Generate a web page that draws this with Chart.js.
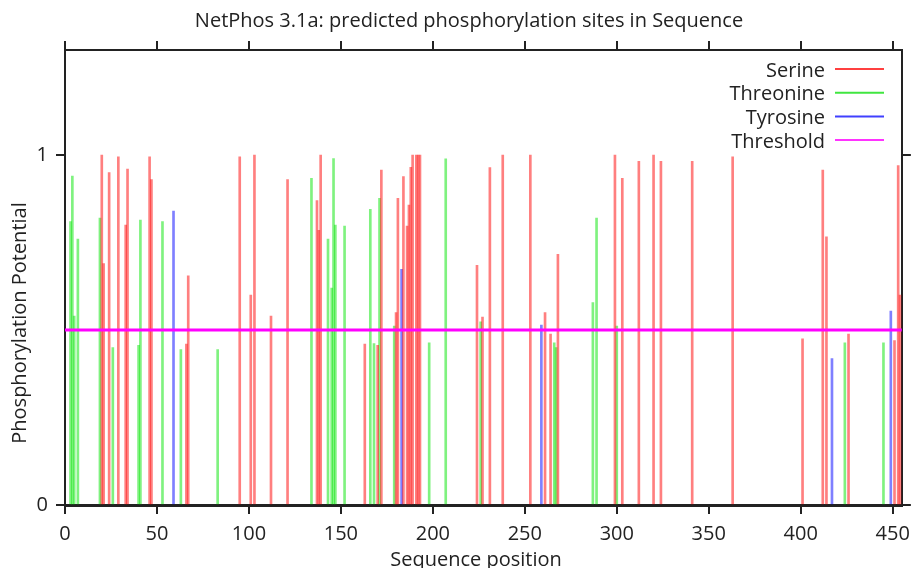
<!DOCTYPE html>
<html>
<head>
<meta charset="utf-8">
<script src="https://cdn.jsdelivr.net/npm/chart.js@4.4.1/dist/chart.umd.min.js"></script>
<style>
  html, body { margin: 0; padding: 0; background: #fff; }
</style>
</head>
<body>
<canvas id="chart" width="918" height="568"></canvas>
<script>
// NetPhos predictions
const serinePos = [20, 21, 24, 29, 33, 34, 46, 47, 66, 67, 95, 101, 103, 112, 121, 137, 138, 139,
  163, 170, 172, 180, 181, 184, 186, 187, 188, 189, 191, 192, 193, 224, 227, 231, 238, 253,
  261, 264, 268, 299, 303, 312, 320, 324, 341, 363, 401, 412, 414, 426, 451, 453, 454];
const serineVal = [1.0, 0.69, 0.95, 0.995, 0.80, 0.96, 0.995, 0.93, 0.46, 0.655, 0.995, 0.60, 1.0, 0.54, 0.93, 0.87, 0.785, 1.0,
  0.46, 0.456, 0.957, 0.55, 0.876, 0.938, 0.797, 0.857, 0.965, 1.0, 1.0, 1.0, 1.0, 0.685, 0.537, 0.964, 1.0, 1.0,
  0.55, 0.488, 0.716, 1.0, 0.933, 0.982, 1.0, 0.982, 0.982, 0.995, 0.475, 0.957, 0.766, 0.488, 0.47, 0.97, 0.60];

const threoninePos = [3, 4, 5, 7, 19, 26, 40, 41, 53, 63, 83, 134, 143, 145, 146, 147, 152, 166, 168, 171,
  179, 198, 207, 226, 266, 267, 287, 289, 300, 424, 445];
const threonineVal = [0.81, 0.94, 0.54, 0.76, 0.82, 0.45, 0.456, 0.814, 0.81, 0.444, 0.444, 0.933, 0.76, 0.62, 0.99, 0.80, 0.797, 0.845, 0.461, 0.876,
  0.511, 0.463, 0.989, 0.523, 0.463, 0.45, 0.578, 0.82, 0.511, 0.463, 0.463];

const tyrosinePos = [59, 183, 259, 417, 449];
const tyrosineVal = [0.84, 0.673, 0.514, 0.418, 0.554];

const threshold = 0.5;
const seqLength = 455;
const xTicks = [0, 50, 100, 150, 200, 250, 300, 350, 400, 450];
const yTicks = [0, 1];

const titleText = "NetPhos 3.1a: predicted phosphorylation sites in Sequence";
const xTitle = "Sequence position";
const yTitle = "Phosphorylation Potential";

const FONT = "'Open Sans', Lato, sans-serif";
const INK = "#222";

const toPoints = (pos, val) => pos.map((p, i) => ({ x: p, y: val[i] }));

const barSet = (label, pos, val, color, key) => ({
  type: "bar",
  label: label,
  data: toPoints(pos, val),
  backgroundColor: color,
  borderWidth: 0,
  barThickness: 2,
  grouped: false,
  order: 1,
  legendColor: key,
});

// titles + the gnuplot style legend (text left, line sample right)
const decor = {
  id: "decor",
  afterDraw(chart) {
    const ctx = chart.ctx;
    ctx.save();
    ctx.fillStyle = INK;
    ctx.font = "20px " + FONT;
    ctx.textAlign = "center";
    ctx.textBaseline = "alphabetic";
    ctx.fillText(titleText, 469, 27);
    ctx.fillText(xTitle, 476, 566);

    ctx.save();
    ctx.translate(26, 323);
    ctx.rotate(-Math.PI / 2);
    ctx.fillText(yTitle, 0, 0);
    ctx.restore();

    ctx.textAlign = "right";
    chart.data.datasets.forEach((ds, i) => {
      const y = 69 + i * 23.7;
      ctx.fillStyle = INK;
      ctx.fillText(ds.label, 825, y + 7.5);
      ctx.strokeStyle = ds.legendColor;
      ctx.lineWidth = 2;
      ctx.beginPath();
      ctx.moveTo(835, y);
      ctx.lineTo(884, y);
      ctx.stroke();
    });
    ctx.restore();
  },
};

const tickGrid = {
  drawOnChartArea: false,
  drawTicks: true,
  tickLength: 9,
  color: INK,
  lineWidth: 2,
  offset: false,
};
const border = { display: true, color: INK, width: 2 };

new Chart(document.getElementById("chart").getContext("2d"), {
  type: "bar",
  data: {
    datasets: [
      barSet("Serine", serinePos, serineVal, "rgba(255,0,0,0.5)", "#ff4040"),
      barSet("Threonine", threoninePos, threonineVal, "rgba(0,230,0,0.5)", "#40e640"),
      barSet("Tyrosine", tyrosinePos, tyrosineVal, "rgba(0,0,255,0.5)", "#4040ff"),
      {
        type: "line",
        label: "Threshold",
        data: [{ x: 0, y: threshold }, { x: seqLength, y: threshold }],
        borderColor: "#ff00ff",
        borderWidth: 3,
        pointRadius: 0,
        fill: false,
        order: 0,
        legendColor: "#ff33ff",
      },
    ],
  },
  options: {
    responsive: false,
    animation: false,
    layout: { padding: 0 },
    plugins: {
      legend: { display: false },
      title: { display: false },
      tooltip: { enabled: false },
    },
    scales: {
      x: {
        type: "linear",
        position: "bottom",
        min: 0,
        max: seqLength,
        offset: false,
        afterBuildTicks: (s) => { s.ticks = xTicks.map((v) => ({ value: v })); },
        afterFit: (s) => { s.height = 63; },
        grid: tickGrid,
        border: { display: true, color: INK, width: 3 },
        ticks: { color: INK, font: { family: FONT, size: 20 }, padding: 8, maxRotation: 0, autoSkip: false },
      },
      x2: {
        type: "linear",
        position: "top",
        min: 0,
        max: seqLength,
        offset: false,
        afterBuildTicks: (s) => { s.ticks = xTicks.map((v) => ({ value: v })); },
        afterFit: (s) => { s.height = 50; },
        grid: tickGrid,
        border: border,
        ticks: { display: false },
      },
      y: {
        type: "linear",
        position: "left",
        min: 0,
        max: 1.3,
        afterBuildTicks: (s) => { s.ticks = yTicks.map((v) => ({ value: v })); },
        afterFit: (s) => { s.width = 65; },
        grid: tickGrid,
        border: border,
        ticks: { color: INK, font: { family: FONT, size: 20 }, padding: 8 },
      },
      y2: {
        type: "linear",
        position: "right",
        min: 0,
        max: 1.3,
        afterBuildTicks: (s) => { s.ticks = yTicks.map((v) => ({ value: v })); },
        afterFit: (s) => { s.width = 14; },
        grid: tickGrid,
        border: border,
        ticks: { display: false },
      },
    },
  },
  plugins: [decor],
});
</script>
</body>
</html>
